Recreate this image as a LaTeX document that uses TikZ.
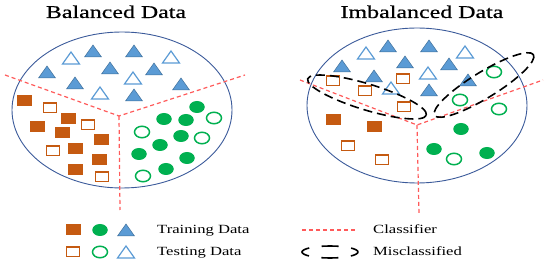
\documentclass[tikz,border=0pt]{standalone}
\usepackage{fontspec}
\setmainfont[FakeStretch=1.33]{Liberation Serif}
\newfontfamily\headfont[FakeStretch=1.33, FakeBold=0.6]{Liberation Serif}
\usetikzlibrary{shapes.geometric}

\definecolor{brick}{HTML}{C55A11}
\definecolor{leafgreen}{HTML}{00B050}
\definecolor{skyblue}{HTML}{5B9BD5}
\definecolor{deepblue}{HTML}{41719C}
\definecolor{rimblue}{HTML}{3B5A9A}
\definecolor{cutred}{HTML}{FF5A5A}

\tikzset{
  tri/.pic={\path[pic actions] (-8.5,6) -- (8.5,6) -- (0,-6) -- cycle;}
}

\begin{document}
\begin{tikzpicture}[x=1pt, y=-1pt,
  sqfill/.style={rectangle, fill=brick, minimum width=15pt,
                 minimum height=11pt, inner sep=0pt},
  sqopen/.style={rectangle, draw=brick, fill=white, line width=1.5pt,
                 minimum width=13pt, minimum height=9.5pt, inner sep=0pt},
  cfill/.style={ellipse, fill=leafgreen, minimum width=15.5pt,
                minimum height=12pt, inner sep=0pt},
  copen/.style={ellipse, draw=leafgreen, fill=white, line width=1.5pt,
                minimum width=15pt, minimum height=11.5pt, inner sep=0pt},
  trifill/.style={fill=skyblue, draw=deepblue, line width=0.5pt},
  triopen/.style={fill=white, draw=skyblue, line width=1.2pt},
  rim/.style={draw=rimblue, line width=0.9pt},
  cutline/.style={draw=cutred, line width=1.2pt, dash pattern=on 4pt off 3pt},
  missline/.style={draw=black, line width=1.6pt, dash pattern=on 9pt off 5pt},
  title/.style={font=\headfont\fontsize{18}{20}\selectfont, anchor=base},
  lbl/.style={font=\fontsize{12.5}{14}\selectfont, anchor=base west, inner sep=0pt}
]
  \useasboundingbox (0,0) rectangle (550,267);

  % titles
  \node[title] (btitle) at (116,18) {Balanced Data};
  \node[title] (ititle) at (422,18) {Imbalanced Data};

  % data clouds
  \draw[rim] (122,110) ellipse [x radius=110, y radius=78];
  \draw[rim] (417,105.5) ellipse [x radius=110, y radius=77.5];

  % classifiers
  \coordinate (bj) at (119,116);
  \coordinate (ij) at (417,125);
  \draw[cutline] (5,75) -- (bj) -- (245,75);
  \draw[cutline] (bj) -- (120,210);
  \draw[cutline] (300,80) -- (ij) -- (543,80);
  \draw[cutline] (ij) -- (419,214);

  % balanced data
  \foreach \x/\y [count=\i] in {93/51, 134/51, 47/72, 110/68, 154/69,
      75/83, 181/84, 134/95}
    \path (\x,\y) pic[trifill] {tri};
  \foreach \x/\y [count=\i] in {71/58, 171/57, 133/78, 100/93}
    \path (\x,\y) pic[triopen] {tri};
  \foreach \x/\y [count=\i] in {24/101, 68/119, 37/127, 62/133, 101/140,
      75/149, 99/160, 75/170}
    \node[sqfill] (bsqa\i) at (\x,\y) {};
  \foreach \x/\y [count=\i] in {50/108, 88/125, 53/151, 102/177}
    \node[sqopen] (bsqb\i) at (\x,\y) {};
  \foreach \x/\y [count=\i] in {197/107, 164/119, 186/120, 181/136,
      160/145, 139/154, 187/158, 166/169}
    \node[cfill] (bcia\i) at (\x,\y) {};
  \foreach \x/\y [count=\i] in {214/118, 142/132, 202/138, 143/176}
    \node[copen] (bcib\i) at (\x,\y) {};

  % imbalanced data
  \foreach \x/\y [count=\i] in {388/46, 429/46, 342/66, 405/62, 449/64,
      374/76, 468/80, 429/90}
    \path (\x,\y) pic[trifill] {tri};
  \foreach \x/\y [count=\i] in {366/53, 465/52, 428/73, 391/88}
    \path (\x,\y) pic[triopen] {tri};
  \foreach \x/\y [count=\i] in {333/120, 374/127}
    \node[sqfill] (isqa\i) at (\x,\y) {};
  \foreach \x/\y [count=\i] in {333/81, 365/91, 403/79, 404/107,
      348/146, 382/160}
    \node[sqopen] (isqb\i) at (\x,\y) {};
  \foreach \x/\y [count=\i] in {461/129, 434/149, 487/153}
    \node[cfill] (icia\i) at (\x,\y) {};
  \foreach \x/\y [count=\i] in {494/72, 460/100, 499/109, 454/159}
    \node[copen] (icib\i) at (\x,\y) {};

  % misclassified
  \draw[missline, rotate around={-17:(367,97)}]
    (367,97) ellipse [x radius=62, y radius=13];
  \draw[missline, rotate around={31.5:(484,85)}]
    (484,85) ellipse [x radius=58, y radius=13];

  % legend
  \node[sqfill]  (ksqa) at (73,230) {};
  \node[cfill]   (kcia) at (100,230) {};
  \path (126,230) pic[trifill] {tri};
  \node[sqopen]  (ksqb) at (73,252) {};
  \node[copen]   (kcib) at (100,252) {};
  \path (126,252) pic[triopen] {tri};
  \node[lbl] (ktrain) at (157,234) {Training Data};
  \node[lbl] (ktest)  at (157,256) {Testing Data};

  \coordinate (kcuta) at (302,230);
  \coordinate (kcutb) at (356,230);
  \draw[cutline] (kcuta) -- (kcutb);
  \draw[missline, dash pattern=on 17pt off 12.6pt, dash phase=8.5pt]
    (330,252) ellipse [x radius=28, y radius=6];
  \node[lbl] (kcls)  at (373,234) {Classifier};
  \node[lbl] (kmis)  at (373,256) {Misclassified};
\end{tikzpicture}
\end{document}
